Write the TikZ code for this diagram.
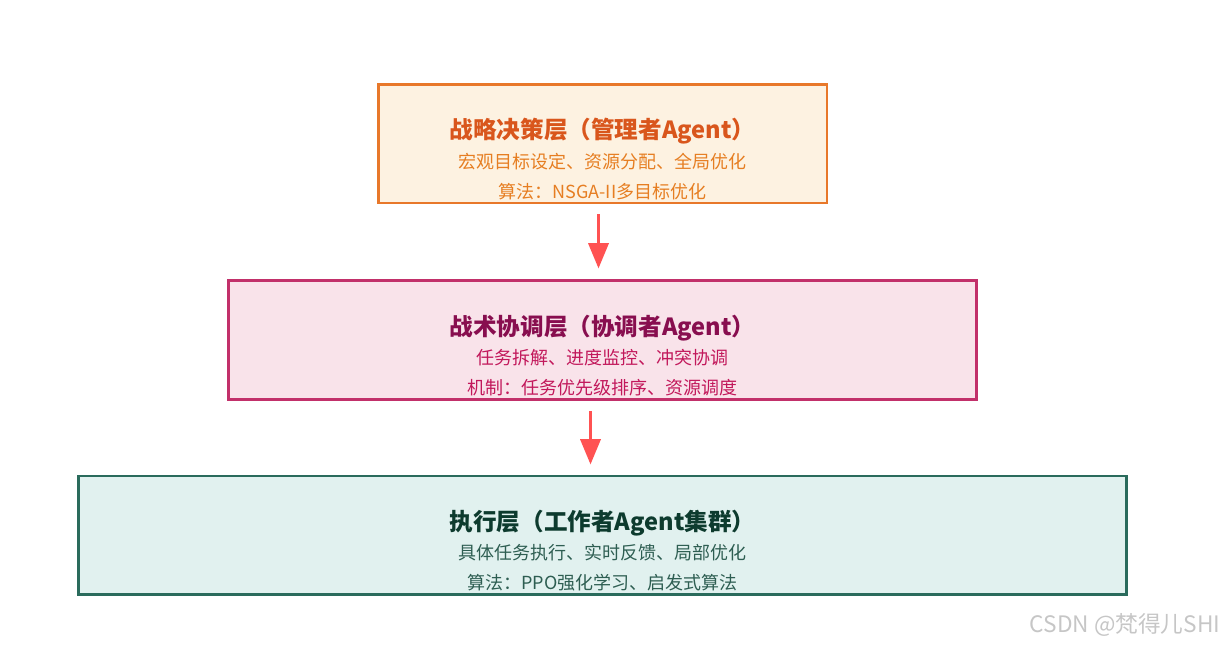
\documentclass[tikz,border=0pt]{standalone}
\usepackage{fontspec}
\setmainfont{Noto Sans CJK SC}
\usepackage{xcolor}
\usetikzlibrary{arrows.meta, positioning}

\definecolor{stratdraw}{HTML}{E8782A}
\definecolor{stratfill}{HTML}{FDF2E1}
\definecolor{strattext}{HTML}{D9561C}
\definecolor{stratsub}{HTML}{E67E22}
\definecolor{tactdraw}{HTML}{C2306A}
\definecolor{tactfill}{HTML}{F9E3EA}
\definecolor{tacttext}{HTML}{880E4F}
\definecolor{tactsub}{HTML}{C2185B}
\definecolor{execdraw}{HTML}{2A6B5C}
\definecolor{execfill}{HTML}{E1F1EF}
\definecolor{exectext}{HTML}{0D3B2E}
\definecolor{execsub}{HTML}{2E5E52}
\definecolor{arrowred}{HTML}{FF5252}

\begin{document}
\begin{tikzpicture}[
    x=0.75pt, y=-0.75pt,
    layer/.style={draw, line width=2pt, minimum height=89pt, inner sep=0pt},
    title/.style={font=\fontsize{17.7}{21}\selectfont\bfseries},
    detail/.style={align=center, font=\fontsize{13.5}{22.5}\selectfont},
    arrow/.style={-{Triangle[length=19pt, width=15pt]}, line width=2.6pt, draw=arrowred},
]
\useasboundingbox (0,0) rectangle (1228,644);

% Strategy layer
\node[layer, draw=stratdraw, fill=stratfill, minimum width=336.5pt] (strat) at (602.5,143.5) {};
\node[title, text=strattext, yshift=9pt] (strat-t) at (strat.center) {战略决策层（管理者Agent）};
\node[detail, text=stratsub, yshift=-24.5pt] (strat-d) at (strat.center) {宏观目标设定、资源分配、全局优化\\算法：NSGA-II多目标优化};

% Tactical layer
\node[layer, draw=tactdraw, fill=tactfill, minimum width=561pt, below=56.25pt of strat] (tact) {};
\node[title, text=tacttext, yshift=9pt] (tact-t) at (tact.center) {战术协调层（协调者Agent）};
\node[detail, text=tactsub, yshift=-24.5pt] (tact-d) at (tact.center) {任务拆解、进度监控、冲突协调\\机制：任务优先级排序、资源调度};

% Execution layer
\node[layer, draw=execdraw, fill=execfill, minimum width=786pt, below=55.5pt of tact] (exec) {};
\node[title, text=exectext, yshift=9pt] (exec-t) at (exec.center) {执行层（工作者Agent集群）};
\node[detail, text=execsub, yshift=-24.5pt] (exec-d) at (exec.center) {具体任务执行、实时反馈、局部优化\\算法：PPO强化学习、启发式算法};

% Arrows
\draw[arrow, shorten <=7.5pt, shorten >=8pt] ([xshift=-3pt]strat.south) -- ([xshift=-3pt]tact.north);
\draw[arrow, shorten <=8pt, shorten >=7.5pt] ([xshift=-9pt]tact.south) -- ([xshift=-9pt]exec.north);

% Watermark
\node[text=gray!45, font=\fontsize{17}{20}\selectfont] (mark) at (1125,625) {CSDN @梵得儿SHI};

\end{tikzpicture}
\end{document}
